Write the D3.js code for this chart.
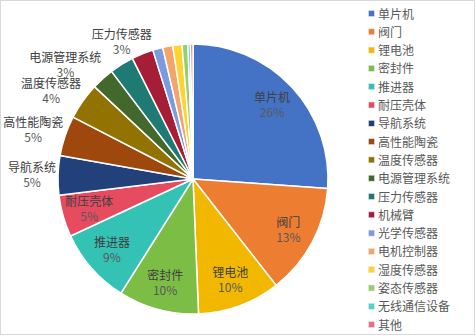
<!DOCTYPE html>
<html>
<head>
<meta charset="utf-8">
<script src="https://cdn.jsdelivr.net/npm/d3@7"></script>
<style>
  html, body { margin: 0; padding: 0; background: #fff; }
  svg { display: block; font-family: "Noto Sans CJK SC", "Noto Sans", sans-serif; }
</style>
</head>
<body>
<div id="container"></div>
<script>
// slice names and shares (%), clockwise from 12 o'clock
const categories = ['单片机', '阀门', '锂电池', '密封件', '推进器', '耐压壳体', '导航系统', '高性能陶瓷',
  '温度传感器', '电源管理系统', '压力传感器', '机械臂', '光学传感器', '电机控制器', '湿度传感器',
  '姿态传感器', '无线通信设备', '其他'];
const shares = [26.1, 13.3, 9.9, 9.6, 9.1, 5.0, 4.7, 4.8, 4.4, 2.7, 2.9, 2.6, 1.2, 1.2, 1.1, 0.7, 0.3, 0.3];
const colors = ['#4472C4', '#ED7D31', '#F2B800', '#7CBD45', '#33C2B4', '#E64B60', '#22407A', '#9E480E',
  '#927200', '#43682B', '#1E7A72', '#A51D36', '#7B9BE0', '#F2A46A', '#FFD22E', '#95D06A', '#4FD6CA', '#EC6E82'];
const labelledCount = 11;   // the smallest slices carry no label

const width = 476, height = 336;
const cx = 193, cy = 179, radius = 135;
const textColor = '#595959';

const svg = d3.select('#container').append('svg')
  .attr('width', width)
  .attr('height', height);

// chart frame
svg.append('rect')
  .attr('x', 0.5).attr('y', 0.5)
  .attr('width', width - 2).attr('height', height - 2)
  .attr('fill', '#fff')
  .attr('stroke', '#d9d9d9');

const data = categories.map((name, i) => ({ name, value: shares[i], color: colors[i], index: i }));
const total = d3.sum(shares);

const pie = d3.pie().sort(null).value(d => d.value);
const arcs = pie(data);
const arc = d3.arc().innerRadius(0).outerRadius(radius);

const g = svg.append('g').attr('transform', `translate(${cx},${cy})`);

g.selectAll('path')
  .data(arcs)
  .enter().append('path')
    .attr('d', arc)
    .attr('fill', d => d.data.color)
    .attr('stroke', '#fff')
    .attr('stroke-width', 1.5)
    .attr('stroke-linejoin', 'round');

// data labels: name on first line, percent below
const lineH = 15, charW = 12;
arcs.forEach(d => {
  if (d.index >= labelledCount) return;
  const a = (d.startAngle + d.endAngle) / 2;
  const s = Math.sin(a), c = Math.cos(a);
  const pct = Math.round(d.data.value / total * 100) + '%';
  const w = d.data.name.length * charW;
  const h = lineH * 2;
  let x, y;
  if (d.data.value >= 5) {
    // inside the slice
    const r = radius * 0.8;
    x = r * s; y = -r * c;
  } else if (Math.abs(s) < 0.6) {
    // above/below the slice edge
    x = radius * s;
    y = -radius * c - Math.sign(c) * (7 + h / 2);
  } else {
    // to the side of the slice edge
    const ex = radius * s, ey = -radius * c;
    x = ex + (s < 0 ? -w / 2 : w / 2) + s * 2;
    y = ey - c * (h / 2 + 3);
  }
  const t = g.append('text')
    .attr('text-anchor', 'middle')
    .attr('font-size', 12)
    .attr('fill', '#404040');
  t.append('tspan').attr('x', x).attr('y', y - 3).text(d.data.name);
  t.append('tspan').attr('x', x).attr('y', y + lineH - 3).attr('fill', textColor).text(pct);
});

// legend
const legendX = 368, legendY = 14, legendStep = 18.3;
const legend = svg.append('g');
const item = legend.selectAll('g')
  .data(data)
  .enter().append('g')
    .attr('transform', (d, i) => `translate(${legendX},${legendY + i * legendStep})`);
item.append('rect')
  .attr('x', 0.5).attr('y', -3.5)
  .attr('width', 6).attr('height', 6)
  .attr('fill', d => d.color)
  .attr('stroke', '#e6e6e6')
  .attr('stroke-width', 0.6);
item.append('text')
  .attr('x', 10)
  .attr('y', 4.5)
  .attr('font-size', 12)
  .attr('fill', textColor)
  .text(d => d.name);
</script>
</body>
</html>
